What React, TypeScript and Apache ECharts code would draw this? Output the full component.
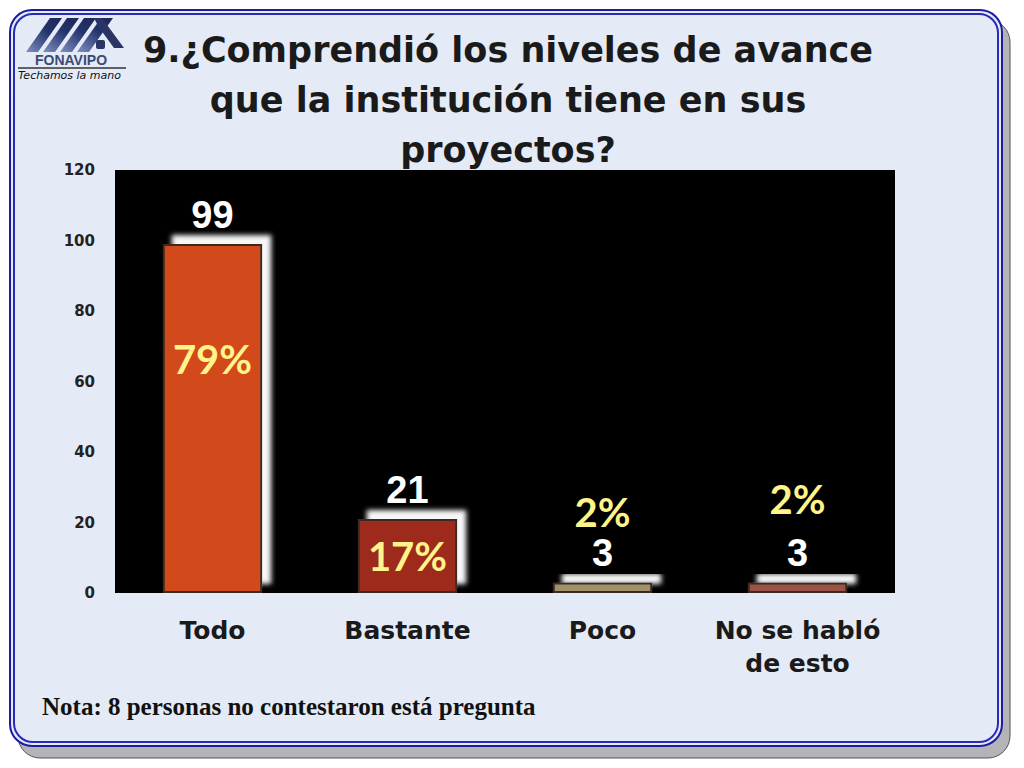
import React, { useEffect, useRef } from "react";
import * as echarts from "echarts";

const categories = ["Todo", "Bastante", "Poco", "No se habló\nde esto"];
const counts = [99, 21, 3, 3];
const percents = [79, 17, 2, 2];
const yTicks = [0, 20, 40, 60, 80, 100, 120];
const barColors = ["#D2491A", "#9E2A1B", "#A3916A", "#9A5344"];
const titleText = "9.¿Comprendió los niveles de avance\nque la institución tiene en sus\nproyectos?";
const noteText = "Nota: 8 personas no contestaron está pregunta";

const pctLabelStyles: any[] = [
  { position: ["50%", 115], align: "center", verticalAlign: "middle" },
  { position: "inside" },
  { position: "top", distance: 50 },
  { position: "top", distance: 63 },
];

export default function App() {
  const ref = useRef<HTMLDivElement>(null);
  useEffect(() => {
    if (!ref.current) return;
    const chart = echarts.init(ref.current, null, { renderer: "svg" });
    const stripes = [0, 1, 2, 3].map((i) => ({
      type: "polygon",
      z: -5,
      shape: {
        points: [
          [26 + i * 17, 52],
          [38 + i * 17, 52],
          [62 + i * 17, 18],
          [50 + i * 17, 18],
        ],
      },
      style: {
        fill: new echarts.graphic.LinearGradient(0, 1, 1, 0, [
          { offset: 0, color: "#7f8fc0" },
          { offset: 0.6, color: "#23336b" },
          { offset: 1, color: "#1b2758" },
        ]),
      },
    }));
    const option: any = {
      animation: false,
      backgroundColor: "#ffffff",
      graphic: [
        {
          type: "rect",
          z: -20,
          shape: { x: 18, y: 20, width: 992, height: 738, r: 22 },
          style: { fill: "#b4b4b8", stroke: "#555", lineWidth: 1 },
        },
        {
          type: "rect",
          z: -19,
          shape: { x: 10, y: 10, width: 992, height: 736, r: 22 },
          style: { fill: "#E4EAF6", stroke: "#1c1ca0", lineWidth: 2 },
        },
        {
          type: "rect",
          z: -18,
          shape: { x: 14, y: 14, width: 984, height: 728, r: 19 },
          style: { fill: "none", stroke: "#2a2ab8", lineWidth: 2 },
        },
        ...stripes,
        {
          type: "polygon",
          z: -5,
          shape: {
            points: [
              [94, 18],
              [102, 18],
              [124, 48],
              [114, 48],
              [98, 26],
            ],
          },
          style: { fill: "#2a3566" },
        },
        {
          type: "rect",
          z: -5,
          shape: { x: 96, y: 40, width: 9, height: 9, r: 2 },
          style: { fill: "#2a3566" },
        },
        {
          type: "text",
          z: -5,
          left: 35,
          top: 53,
          style: {
            text: "FONAVIPO",
            fontFamily: "Liberation Sans",
            fontWeight: "bold",
            fontSize: 14,
            fill: "#3c4a70",
          },
        },
        {
          type: "line",
          z: -5,
          shape: { x1: 18, y1: 68, x2: 126, y2: 68 },
          style: { stroke: "#333", lineWidth: 1.5 },
        },
        {
          type: "text",
          z: -5,
          left: 18,
          top: 70,
          style: {
            text: "Techamos la mano",
            fontFamily: "DejaVu Sans",
            fontStyle: "italic",
            fontSize: 11,
            fill: "#111",
          },
        },
        {
          type: "text",
          x: 508,
          y: 25,
          style: {
            text: titleText,
            textAlign: "center",
            textVerticalAlign: "top",
            fontFamily: "DejaVu Sans",
            fontWeight: "bold",
            fontSize: 35,
            lineHeight: 50,
            fill: "#1a1a1a",
          },
        },
        {
          type: "text",
          left: 42,
          top: 694,
          style: {
            text: noteText,
            fontFamily: "Liberation Serif",
            fontWeight: "bold",
            fontSize: 25,
            fill: "#111",
          },
        },
      ],
      grid: {
        left: 115,
        right: 129,
        top: 170,
        bottom: 175,
        show: true,
        backgroundColor: "#000000",
        borderWidth: 0,
      },
      xAxis: {
        type: "category",
        data: categories,
        axisLine: { show: false },
        axisTick: { show: false },
        axisLabel: {
          interval: 0,
          fontFamily: "DejaVu Sans",
          fontWeight: "bold",
          fontSize: 25,
          color: "#1a1a1a",
          margin: 21,
          lineHeight: 33,
        },
      },
      yAxis: {
        type: "value",
        min: yTicks[0],
        max: yTicks[yTicks.length - 1],
        interval: yTicks[1] - yTicks[0],
        splitLine: { show: false },
        axisLine: { show: false },
        axisTick: { show: false },
        axisLabel: {
          fontFamily: "DejaVu Sans",
          fontWeight: "bold",
          fontSize: 15,
          color: "#222",
          margin: 20,
        },
      },
      series: [
        {
          type: "bar",
          barWidth: "51%",
          data: counts.map((v, i) => ({
            value: v,
            itemStyle: { color: barColors[i] },
          })),
          itemStyle: {
            borderColor: "#3a2a22",
            borderWidth: 2,
            shadowColor: "rgba(255,255,255,0.97)",
            shadowBlur: 5,
            shadowOffsetX: 9,
            shadowOffsetY: -9,
          },
          label: {
            show: true,
            position: "top",
            distance: 10,
            fontFamily: "Liberation Sans",
            fontWeight: "bold",
            fontSize: 38,
            color: "#ffffff",
          },
        },
        {
          type: "bar",
          barWidth: "51%",
          barGap: "-100%",
          silent: true,
          z: 5,
          data: counts.map((v, i) => ({
            value: v,
            label: pctLabelStyles[i],
          })),
          itemStyle: { color: "rgba(0,0,0,0)" },
          label: {
            show: true,
            fontFamily: "Lato",
            fontWeight: "bold",
            fontSize: 40,
            color: "#FFF48A",
            formatter: (p: any) => percents[p.dataIndex] + "%",
          },
        },
      ],
    };
    chart.setOption(option);
    return () => chart.dispose();
  }, []);
  return (
    <div
      ref={ref}
      style={{ position: "fixed", left: 0, top: 0, width: 1024, height: 768 }}
    />
  );
}
